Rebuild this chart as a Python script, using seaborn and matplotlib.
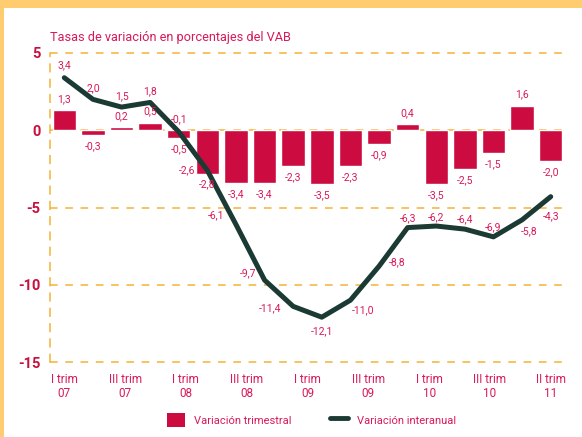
import numpy as np
import pandas as pd
import matplotlib
matplotlib.use("Agg")
import matplotlib.pyplot as plt
from matplotlib.patches import Rectangle
from matplotlib.lines import Line2D
import seaborn as sns

# Data
quarters = ["I 07", "II 07", "III 07", "IV 07",
            "I 08", "II 08", "III 08", "IV 08",
            "I 09", "II 09", "III 09", "IV 09",
            "I 10", "II 10", "III 10", "IV 10",
            "I 11", "II 11"]
trimestral = [1.3, -0.3, 0.2, 0.5, -0.5, -2.8, -3.4, -3.4, -2.3,
              -3.5, -2.3, -0.9, 0.4, -3.5, -2.5, -1.5, 1.6, -2.0]
interanual = [3.4, 2.0, 1.5, 1.8, -0.1, -2.6, -6.1, -9.7, -11.4,
              -12.1, -11.0, -8.8, -6.3, -6.2, -6.4, -6.9, -5.8, -4.3]
tick_labels = ["I trim\n07", "III trim\n07", "I trim\n08", "III trim\n08",
               "I trim\n09", "III trim\n09", "I trim\n10", "III trim\n10",
               "II trim\n11"]

# label offsets (points) for the line values
line_offsets = [(0, 9), (0, 8), (0, 8), (0, 8), (0, 9), (-15, 0), (-14, 7),
                (-12, 5), (-17, -1), (0, -10), (9, -7), (13, 3), (0, 7),
                (0, 6.5), (0, 7), (0, 7), (5, -8), (0, -14)]

bar_color = "#CC0C40"
text_color = "#D81A58"
line_color = "#1B3A34"
grid_color = "#F5B335"
yellow = "#FFCD70"

df = pd.DataFrame({"q": quarters, "pos": range(len(quarters)),
                   "trim": trimestral, "inter": interanual})

sns.set_style("white")
plt.rcParams["font.family"] = ["Roboto", "DejaVu Sans"]

fig = plt.figure(figsize=(5.82, 4.37), dpi=100)
fig.patch.set_facecolor("white")
fig.patches.append(Rectangle((0, 1 - 8 / 437), 1, 8 / 437, transform=fig.transFigure,
                             facecolor=yellow, edgecolor="none", zorder=0))
fig.patches.append(Rectangle((0, 0), 4 / 582, 1, transform=fig.transFigure,
                             facecolor=yellow, edgecolor="none", zorder=0))

ax = fig.add_axes([50 / 582, 1 - 362 / 437, 515 / 582, 309 / 437])

sns.barplot(data=df, x="q", y="trim", color=bar_color, width=0.82,
            saturation=1, ax=ax, zorder=3)
sns.lineplot(data=df, x="pos", y="inter", color=line_color, linewidth=3.6,
             ax=ax, zorder=4)

ax.set_ylim(-15, 5)
ax.set_xlim(-0.5, 17.5)
ax.set_yticks([5, 0, -5, -10, -15])
ax.set_yticklabels(["5", "0", "-5", "-10", "-15"], color="#C8103E",
                   fontweight="bold", fontsize=10.5)
for y in [5, 0, -5, -10, -15]:
    ax.axhline(y, color=grid_color, linestyle=(0, (5, 5)), linewidth=1.1,
               zorder=1, clip_on=False)
ax.set_xticks(np.linspace(0, 17, 9))
ax.set_xticklabels(tick_labels, color=text_color, fontsize=8.5, linespacing=1.05)
ax.tick_params(axis="x", length=0, pad=8)
ax.tick_params(axis="y", length=0, pad=7)
ax.set_xlabel("")
ax.set_ylabel("")
for s in ["top", "right", "bottom"]:
    ax.spines[s].set_visible(False)
ax.spines["left"].set_color(grid_color)
ax.spines["left"].set_linestyle((0, (5, 5)))
ax.spines["left"].set_linewidth(1.1)

# value labels
for i, v in enumerate(trimestral):
    txt = f"{v:.1f}".replace(".", ",")
    off = 8 if v >= 0 else -8
    ax.annotate(txt, (i, v), xytext=(0, off), textcoords="offset points",
                ha="center", va="center", color=text_color, fontsize=7.5, zorder=5)
for i, v in enumerate(interanual):
    txt = f"{v:.1f}".replace(".", ",")
    ax.annotate(txt, (i, v), xytext=line_offsets[i], textcoords="offset points",
                ha="center", va="center", color=text_color, fontsize=7.5, zorder=5)

ax.text(0, 1.03, "Tasas de variación en porcentajes del VAB", transform=ax.transAxes,
        color=text_color, fontsize=9.2, ha="left", va="bottom")

handles = [Rectangle((0, 0), 1, 1, facecolor=bar_color, edgecolor="none"),
           Line2D([0], [0], color=line_color, linewidth=3.5)]
fig.legend(handles, ["Variación trimestral", "Variación interanual"],
           loc="center", bbox_to_anchor=(0.535, 1 - 420 / 437), ncol=2,
           frameon=False, fontsize=8, labelcolor=text_color,
           handlelength=1.6, columnspacing=3.5, handletextpad=0.8,
           handleheight=1.5)

fig.savefig("out.png", dpi=100)
